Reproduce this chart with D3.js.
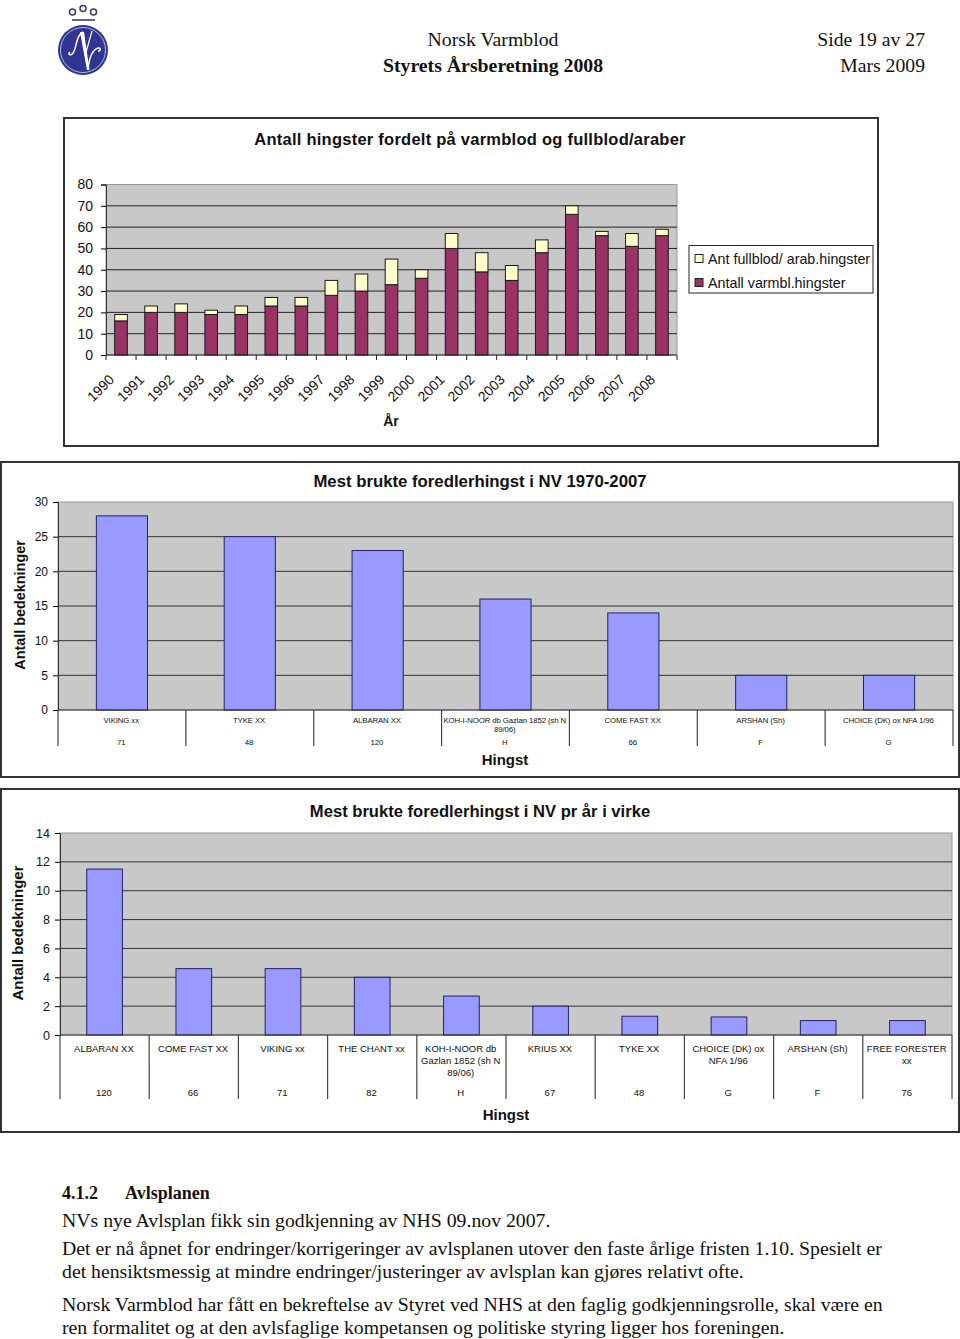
<!DOCTYPE html>
<html>
<head>
<meta charset="UTF-8">
<title>Norsk Varmblod</title>
<style>
  body { margin: 0; background: #fff; }
  svg { display: block; }
  text { font-family: "Liberation Sans", Arial, sans-serif; fill: #111; }
  .serif { font-family: "Liberation Serif", "Times New Roman", serif; }
  .domain { stroke: #333; }
</style>
<script src="https://d3js.org/d3.v7.min.js"></script>
</head>
<body>
<div id="page"></div>
<script>
var years = ["1990","1991","1992","1993","1994","1995","1996","1997","1998","1999","2000","2001","2002","2003","2004","2005","2006","2007","2008"];
var varmbl = [16,20,20,19,19,23,23,28,30,33,36,50,39,35,48,66,56,51,56];
var fullblod = [3,3,4,2,4,4,4,7,8,12,4,7,9,7,6,4,2,6,3];

var names2 = [["VIKING xx"],["TYKE XX"],["ALBARAN XX"],["KOH-I-NOOR db Gazlan 1852 (sh N","89/06)"],["COME FAST XX"],["ARSHAN (Sh)"],["CHOICE (DK) ox NFA 1/96"]];
var codes2 = ["71","48","120","H","66","F","G"];
var values2 = [28,25,23,16,14,5,5];

var names3 = [["ALBARAN XX"],["COME FAST XX"],["VIKING xx"],["THE CHANT xx"],["KOH-I-NOOR db","Gazlan 1852 (sh N","89/06)"],["KRIUS XX"],["TYKE XX"],["CHOICE (DK) ox","NFA 1/96"],["ARSHAN (Sh)"],["FREE FORESTER","xx"]];
var codes3 = ["120","66","71","82","H","67","48","G","F","76"];
var values3 = [11.5,4.6,4.6,4,2.7,2,1.3,1.25,1,1];

var bodyLines = [
  {t:"NVs nye Avlsplan fikk sin godkjenning av NHS 09.nov 2007.", y:1227},
  {t:"Det er nå åpnet for endringer/korrigeringer av avlsplanen utover den faste årlige fristen 1.10. Spesielt er", y:1255},
  {t:"det hensiktsmessig at mindre endringer/justeringer av avlsplan kan gjøres relativt ofte.", y:1278},
  {t:"Norsk Varmblod har fått en bekreftelse av Styret ved NHS at den faglig godkjenningsrolle, skal være en", y:1311},
  {t:"ren formalitet og at den avlsfaglige kompetansen og politiske styring ligger hos foreningen.", y:1334}
];

var svg = d3.select("#page").append("svg").attr("width", 960).attr("height", 1339);

// page header
function logo() {
  var g = svg.append("g");
  [[72.5,12],[83,8.5],[93.5,12]].forEach(function (c) {
    g.append("circle").attr("cx", c[0]).attr("cy", c[1]).attr("r", 3).attr("fill", "none").attr("stroke", "#3a3a6e").attr("stroke-width", 1.5);
  });
  g.append("line").attr("x1", 72).attr("x2", 95).attr("y1", 20).attr("y2", 20).attr("stroke", "#3a3a6e").attr("stroke-width", 1.6);
  g.append("circle").attr("cx", 83).attr("cy", 50).attr("r", 25).attr("fill", "#2f3590");
  g.append("circle").attr("cx", 83).attr("cy", 50).attr("r", 22.5).attr("fill", "none").attr("stroke", "#b9bbdc").attr("stroke-width", 1);
  // the N and v of the emblem are a drawing in the original
  g.append("path").attr("d", "M70,52 C67,55 71,56 73,53 C76,49 76,41 79,36 C80,34 81,33 83,32").attr("fill", "none").attr("stroke", "#fff").attr("stroke-width", 1.5);
  g.append("path").attr("d", "M80,32 L84,32 L89.5,70 L87,70 Z").attr("fill", "#fff");
  g.append("path").attr("d", "M92,31 L85,56").attr("fill", "none").attr("stroke", "#fff").attr("stroke-width", 1.2);
  g.append("path").attr("d", "M88,69 C89,60 92,50 98,48 C101,47 101,51 98,51").attr("fill", "none").attr("stroke", "#fff").attr("stroke-width", 1.4);
}
logo();

function serifText(x, y, t, size, anchor, bold) {
  svg.append("text").attr("class", "serif").attr("x", x).attr("y", y).attr("font-size", size)
    .attr("text-anchor", anchor || "start").attr("font-weight", bold ? "bold" : "normal").text(t);
}
serifText(493, 46, "Norsk Varmblod", 19.8, "middle");
serifText(493, 72, "Styrets Årsberetning 2008", 19.8, "middle", true);
serifText(925, 46, "Side 19 av 27", 19.7, "end");
serifText(925, 72, "Mars 2009", 19.7, "end");

function frame(x, y, w, h) {
  svg.append("rect").attr("x", x).attr("y", y).attr("width", w).attr("height", h)
    .attr("fill", "#fff").attr("stroke", "#333").attr("stroke-width", 2);
}

// chart 1: stacked bars
frame(64, 118, 814, 328);
svg.append("text").attr("x", 470).attr("y", 145).attr("text-anchor", "middle").attr("font-size", 16.5).attr("letter-spacing", 0.25).attr("font-weight", "bold").text("Antall hingster fordelt på varmblod og fullblod/araber");

var x1 = d3.scaleBand().domain(years).range([106, 677]).paddingInner(0.58).paddingOuter(0.29);
var y1 = d3.scaleLinear().domain([0, 80]).range([355, 184.5]);

svg.append("rect").attr("x", 106).attr("y", y1(80)).attr("width", 571).attr("height", y1(0) - y1(80)).attr("fill", "#c8c8c8").attr("stroke", "#999");
svg.append("g").selectAll("line").data(d3.range(10, 80, 10)).enter().append("line")
  .attr("x1", 106).attr("x2", 677).attr("y1", function (d) { return y1(d); }).attr("y2", function (d) { return y1(d); })
  .attr("stroke", "#222").attr("stroke-width", 1);

var axisL1 = svg.append("g").attr("transform", "translate(106,0)")
  .call(d3.axisLeft(y1).tickValues(d3.range(0, 90, 10)).tickSize(5).tickPadding(8));
axisL1.selectAll("text").attr("font-size", 14).style("font-family", "Liberation Sans");

svg.append("g").selectAll("rect").data(years).enter().append("rect")
  .attr("x", function (d) { return x1(d); }).attr("width", x1.bandwidth())
  .attr("y", function (d, i) { return y1(varmbl[i]); })
  .attr("height", function (d, i) { return y1(0) - y1(varmbl[i]); })
  .attr("fill", "#993366").attr("stroke", "#1a1a1a").attr("stroke-width", 1);
svg.append("g").selectAll("rect").data(years).enter().append("rect")
  .attr("x", function (d) { return x1(d); }).attr("width", x1.bandwidth())
  .attr("y", function (d, i) { return y1(varmbl[i] + fullblod[i]); })
  .attr("height", function (d, i) { return y1(varmbl[i]) - y1(varmbl[i] + fullblod[i]); })
  .attr("fill", "#ffffcc").attr("stroke", "#1a1a1a").attr("stroke-width", 1);

// x axis has ticks on the category edges, so drawn from the band step
var step1 = x1.step();
svg.append("line").attr("x1", 106).attr("x2", 677).attr("y1", 355).attr("y2", 355).attr("stroke", "#222");
svg.append("g").selectAll("line").data(d3.range(0, years.length + 1)).enter().append("line")
  .attr("x1", function (d) { return 106 + d * step1; }).attr("x2", function (d) { return 106 + d * step1; })
  .attr("y1", 355).attr("y2", 360).attr("stroke", "#222");
svg.append("g").selectAll("text").data(years).enter().append("text")
  .attr("font-size", 14).attr("text-anchor", "end")
  .attr("transform", function (d) { return "translate(" + (x1(d) + x1.bandwidth() / 2 - 9.5) + ",377) rotate(-45)"; })
  .text(function (d) { return d; })
  .attr("dy", "0.35em");
svg.append("text").attr("x", 391).attr("y", 426).attr("text-anchor", "middle").attr("font-size", 14).attr("font-weight", "bold").text("År");

// legend
svg.append("rect").attr("x", 689).attr("y", 245.5).attr("width", 184).attr("height", 47.5).attr("fill", "#fff").attr("stroke", "#222").attr("stroke-width", 1);
[["#ffffcc", "Ant fullblod/ arab.hingster", 258.5], ["#993366", "Antall varmbl.hingster", 282.5]].forEach(function (l) {
  svg.append("rect").attr("x", 695).attr("y", l[2] - 4).attr("width", 8).attr("height", 8).attr("fill", l[0]).attr("stroke", "#222");
  svg.append("text").attr("x", 708).attr("y", l[2] + 5).attr("font-size", 14.3).text(l[1]);
});

// charts 2 and 3 share the same layout
function barChart(o) {
  frame(o.fx, o.fy, o.fw, o.fh);
  var x = d3.scaleBand().domain(o.codes.map(function (c, i) { return i; })).range([o.left, o.right]).padding(0.6).paddingOuter(0.3);
  var y = d3.scaleLinear().domain([0, o.max]).range([o.bottom, o.top]);

  svg.append("rect").attr("x", o.left).attr("y", o.top).attr("width", o.right - o.left).attr("height", o.bottom - o.top).attr("fill", "#c8c8c8").attr("stroke", "#999");
  svg.append("g").selectAll("line").data(o.ticks.slice(1, -1)).enter().append("line")
    .attr("x1", o.left).attr("x2", o.right).attr("y1", function (d) { return y(d); }).attr("y2", function (d) { return y(d); })
    .attr("stroke", "#333");

  var ay = svg.append("g").attr("transform", "translate(" + o.left + ",0)")
    .call(d3.axisLeft(y).tickValues(o.ticks).tickSize(5).tickPadding(5));
  ay.selectAll("text").attr("font-size", o.tickSize).style("font-family", "Liberation Sans");
  ay.select(".domain").attr("stroke", "#999");

  svg.append("g").selectAll("rect").data(o.values).enter().append("rect")
    .attr("x", function (d, i) { return x(i); }).attr("width", x.bandwidth())
    .attr("y", function (d) { return y(d); })
    .attr("height", function (d) { return y(0) - y(d); })
    .attr("fill", "#9999ff").attr("stroke", "#222266").attr("stroke-width", 1);

  svg.append("line").attr("x1", o.left).attr("x2", o.right).attr("y1", o.bottom).attr("y2", o.bottom).attr("stroke", "#333");
  var step = x.step();
  svg.append("g").selectAll("line").data(d3.range(0, o.codes.length + 1)).enter().append("line")
    .attr("x1", function (d) { return o.left + d * step; }).attr("x2", function (d) { return o.left + d * step; })
    .attr("y1", o.bottom).attr("y2", o.sepBottom).attr("stroke", "#444").attr("stroke-width", 1.2);

  o.names.forEach(function (lines, i) {
    lines.forEach(function (t, j) {
      svg.append("text").attr("x", o.left + (i + 0.5) * step - 0.7).attr("y", o.nameY + j * o.lineH)
        .attr("text-anchor", "middle").attr("font-size", o.labelSize).attr("letter-spacing", o.spacing).text(t);
    });
    svg.append("text").attr("x", o.left + (i + 0.5) * step - 0.7).attr("y", o.codeY)
      .attr("text-anchor", "middle").attr("font-size", o.labelSize).attr("letter-spacing", o.spacing).text(o.codes[i]);
  });

  svg.append("text").attr("x", o.titleX).attr("y", o.titleY).attr("text-anchor", "middle").attr("font-size", o.titleSize).attr("font-weight", "bold").text(o.title);
  svg.append("text").attr("x", o.xTitleX).attr("y", o.xTitleY).attr("text-anchor", "middle").attr("font-size", 15).attr("font-weight", "bold").text("Hingst");
  svg.append("text").attr("transform", "translate(" + o.yTitleX + "," + o.yTitleY + ") rotate(-90)")
    .attr("text-anchor", "middle").attr("font-size", o.yTitleSize).attr("font-weight", "bold").text("Antall bedekninger");
}

barChart({
  fx: 1, fy: 462, fw: 958, fh: 315, left: 58, right: 953, top: 502, bottom: 710, max: 30,
  ticks: [0,5,10,15,20,25,30], tickSize: 12, names: names2, codes: codes2, values: values2,
  sepBottom: 746, nameY: 723, codeY: 745, lineH: 9, labelSize: 7.8, spacing: -0.1,
  title: "Mest brukte foredlerhingst i NV 1970-2007", titleSize: 16.75, titleX: 480, titleY: 487,
  xTitleX: 505, xTitleY: 765, yTitleX: 25, yTitleY: 605, yTitleSize: 14.4
});

barChart({
  fx: 1, fy: 789, fw: 958, fh: 343, left: 60, right: 952, top: 833, bottom: 1035, max: 14,
  ticks: d3.range(0, 16, 2), tickSize: 12.5, names: names3, codes: codes3, values: values3,
  sepBottom: 1099, nameY: 1052, codeY: 1096, lineH: 12, labelSize: 9.5, spacing: 0,
  title: "Mest brukte foredlerhingst i NV pr år i virke", titleSize: 16.6, titleX: 480, titleY: 817,
  xTitleX: 506, xTitleY: 1120, yTitleX: 23, yTitleY: 933, yTitleSize: 15
});

// text below the charts
serifText(62, 1199, "4.1.2", 18, "start", true);
serifText(125, 1199, "Avlsplanen", 18, "start", true);
bodyLines.forEach(function (l) { serifText(62, l.y, l.t, 19.75); });
</script>
</body>
</html>
